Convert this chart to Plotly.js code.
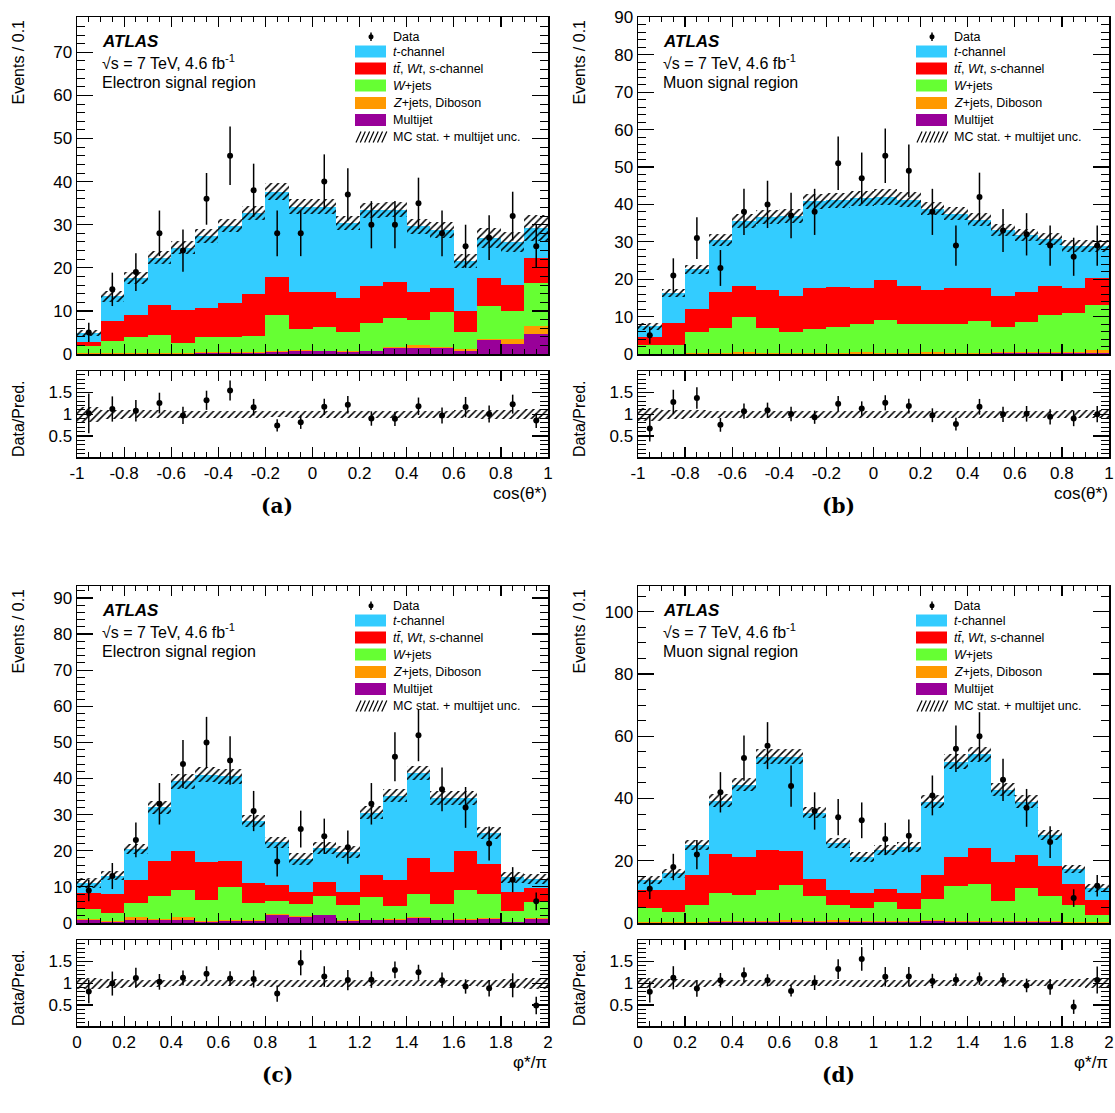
<!DOCTYPE html>
<html><head><meta charset="utf-8">
<script src="https://cdn.plot.ly/plotly-3.0.1.min.js"></script>
<style>body{margin:0;background:#fff}</style>
</head><body><div id="chart" style="width:1115px;height:1113px"></div>
<script>
// ---------------- data ----------------
const cosBins = [-0.95,-0.85,-0.75,-0.65,-0.55,-0.45,-0.35,-0.25,-0.15,-0.05,0.05,0.15,0.25,0.35,0.45,0.55,0.65,0.75,0.85,0.95];
const phiBins = [0.05,0.15,0.25,0.35,0.45,0.55,0.65,0.75,0.85,0.95,1.05,1.15,1.25,1.35,1.45,1.55,1.65,1.75,1.85,1.95];
const cosTickVals = [-1,-0.8,-0.6,-0.4,-0.2,0,0.2,0.4,0.6,0.8,1];
const cosTickText = ['-1','-0.8','-0.6','-0.4','-0.2','0','0.2','0.4','0.6','0.8','1'];
const phiTickVals = [0,0.2,0.4,0.6,0.8,1,1.2,1.4,1.6,1.8,2];
const phiTickText = ['0','0.2','0.4','0.6','0.8','1','1.2','1.4','1.6','1.8','2'];

// (a) electron, cos(theta*)
const elCosMultijet = [0.1,0.1,0.1,0.1,0.1,0.2,0.3,0.3,0.5,0.6,0.6,0.5,0.6,1.5,1.4,1.4,0.8,3.2,2.4,4.7];
const elCosZjets    = [0.05,0.1,0.1,0.1,0.1,0.2,0.2,0.2,0.2,0.3,0.2,0.3,0.2,0.2,0.6,0.2,0.4,0.2,1.1,1.7];
const elCosWjets    = [1.65,2.9,3.8,4.3,2.4,3.6,3.4,3.75,8.3,4.9,5.5,4.4,6.5,6.6,5.8,8.1,4.0,7.8,6.5,10.1];
const elCosTop      = [1.1,4.6,5.1,6.9,7.7,6.6,7.9,9.65,8.9,8.7,8.0,7.9,8.4,8.4,6.7,5.7,4.8,6.4,5.9,5.8];
const elCosTchan    = [2.0,5.7,8.5,10.9,14.4,16.7,18.0,18.8,19.8,19.7,19.9,17.3,17.6,16.8,15.1,13.4,11.5,9.3,10.1,6.9];
const elCosData     = [5,15,19,28,24,36,46,38,28,28,40,37,30,30,35,28,25,27,32,25];
const elCosUnc      = [0.7,1.3,1.4,1.5,1.5,1.6,1.6,1.6,1.9,1.8,1.7,1.6,1.8,1.8,1.7,1.8,1.6,2.3,2.3,3.0];
const elCosRatioUnc = [0.17,0.1,0.09,0.09,0.08,0.08,0.08,0.08,0.07,0.08,0.08,0.08,0.08,0.08,0.08,0.08,0.09,0.1,0.1,0.12];

// (b) muon, cos(theta*)
const muCosMultijet = [0.05,0.05,0.1,0.1,0.1,0.1,0.1,0.1,0.1,0.1,0.1,0.1,0.1,0.1,0.1,0.2,0.2,0.2,0.3,0.4];
const muCosZjets    = [0.05,0.05,0.1,0.2,0.4,0.3,0.3,0.3,0.3,0.4,0.3,0.3,0.4,0.3,0.3,0.4,0.3,0.3,0.3,0.8];
const muCosWjets    = [2.4,2.3,5.6,6.6,9.5,6.5,5.4,6.2,6.7,7.4,8.7,7.5,7.5,7.5,8.3,6.7,8.0,9.8,10.3,11.9];
const muCosTop      = [2.1,5.8,6.1,9.6,8.1,10.3,9.8,11.1,10.8,9.7,10.6,10.2,9.0,9.7,8.9,8.3,8.0,7.8,6.7,7.2];
const muCosTchan    = [2.8,8.2,10.7,13.9,17.4,19.4,21.2,23.1,23.2,24.0,22.3,23.2,21.9,19.9,18.3,17.5,15.2,12.7,11.2,8.7];
const muCosData     = [5,21,31,23,38,40,37,38,51,47,53,49,38,29,42,33,32,29,26,29];
const muCosUnc      = [0.9,1.1,1.3,1.6,1.9,1.9,1.9,2.0,2.0,2.1,2.1,2.0,1.8,1.8,1.8,1.6,1.6,1.6,1.6,1.6];
const muCosRatioUnc = [0.15,0.1,0.09,0.08,0.08,0.08,0.08,0.08,0.08,0.08,0.08,0.08,0.08,0.08,0.08,0.08,0.08,0.08,0.09,0.09];

// (c) electron, phi*/pi
const elPhiMultijet = [0.7,0.4,0.9,0.9,0.7,0.3,0.5,0.5,2.1,1.7,2.1,0.5,0.7,0.9,1.4,0.7,0.9,1.2,0.2,1.2];
const elPhiZjets    = [0.4,0.1,0.8,0.3,0.9,0.3,0.2,0.2,0.5,0.2,0.2,0.2,0.2,0.2,0.2,0.2,0.2,0.1,0.1,0.1];
const elPhiWjets    = [2.9,2.3,3.8,6.2,7.6,5.9,9.2,4.8,3.4,3.5,5.1,4.4,6.3,3.5,6.5,4.5,8.1,6.8,2.9,4.4];
const elPhiTop      = [4.3,5.3,6.5,9.9,10.8,10.3,7.4,5.5,4.4,3.3,3.9,3.6,6.2,7.4,9.9,8.8,10.6,8.1,5.4,4.0];
const elPhiTchan    = [2.8,5.0,8.5,14.7,19.2,24.3,23.3,17.2,11.9,9.0,9.5,10.9,17.1,23.3,23.6,20.4,14.8,8.7,4.0,2.5];
const elPhiData     = [9,13,23,33,44,50,45,31,17,26,24,21,33,46,52,37,32,22,12,6];
const elPhiUnc      = [1.3,1.3,1.5,1.7,2.0,2.1,2.1,1.6,1.6,1.6,1.7,1.6,1.8,1.9,2.0,1.9,1.9,1.6,1.5,1.5];
const elPhiRatioUnc = [0.13,0.1,0.08,0.08,0.07,0.07,0.07,0.07,0.08,0.08,0.08,0.08,0.07,0.07,0.07,0.07,0.07,0.08,0.1,0.13];

// (d) muon, phi*/pi
const muPhiMultijet = [0.1,0.1,0.1,0.2,0.2,0.2,0.4,0.3,0.2,0.2,0.2,0.2,0.6,0.3,0.2,0.2,0.2,0.2,0.1,0.1];
const muPhiZjets    = [0.2,0.2,0.3,0.3,0.3,0.3,0.6,0.4,0.9,0.5,0.5,0.4,0.3,0.3,0.3,0.3,0.3,0.3,0.2,0.2];
const muPhiWjets    = [4.5,3.1,5.5,9.3,8.4,10.0,11.2,7.9,4.8,4.1,6.0,4.0,6.8,11.2,12.0,6.7,10.7,8.3,5.4,2.4];
const muPhiTop      = [5.9,7.3,9.4,12.3,12.2,13.0,11.0,5.6,4.8,4.8,4.2,5.2,7.8,9.3,11.6,12.3,10.6,9.6,6.9,4.8];
const muPhiTchan    = [3.0,5.3,9.8,17.2,23.3,30.0,30.3,21.3,15.0,11.6,12.6,14.5,23.5,30.8,30.2,23.3,17.2,9.9,4.8,3.7];
const muPhiData     = [11,18,22,42,53,57,44,36,34,33,27,28,41,56,60,46,37,26,8,12];
const muPhiUnc      = [1.3,1.4,1.6,2.0,2.1,2.4,2.4,1.9,1.6,1.5,1.6,1.6,2.0,2.3,2.4,2.1,2.0,1.7,1.4,1.2];
const muPhiRatioUnc = [0.12,0.09,0.08,0.07,0.07,0.07,0.07,0.07,0.07,0.08,0.08,0.08,0.07,0.07,0.07,0.07,0.07,0.07,0.09,0.12];

const sampleNames  = ['Multijet','Z+jets, Diboson','W+jets','tt, Wt, s-channel','t-channel'];
const sampleColors = ['#990099','#ff9900','#66ff33','#ff0000','#33ccff'];

// ---------------- build ----------------
const FONT = 'Liberation Sans, Arial, Helvetica, sans-serif';
const panels = [
  {bins: cosBins, comps:[elCosMultijet,elCosZjets,elCosWjets,elCosTop,elCosTchan], data: elCosData, unc: elCosUnc, runc: elCosRatioUnc,
   ymax: 78.2, ydt: 10, ymin: 2, region: 'Electron signal region', col: 0, row: 0, xtitle: 'cos(θ*)', label: '(a)', tv: cosTickVals, tt: cosTickText, xr:[-1,1]},
  {bins: cosBins, comps:[muCosMultijet,muCosZjets,muCosWjets,muCosTop,muCosTchan], data: muCosData, unc: muCosUnc, runc: muCosRatioUnc,
   ymax: 90.1, ydt: 10, ymin: 2, region: 'Muon signal region', col: 1, row: 0, xtitle: 'cos(θ*)', label: '(b)', tv: cosTickVals, tt: cosTickText, xr:[-1,1]},
  {bins: phiBins, comps:[elPhiMultijet,elPhiZjets,elPhiWjets,elPhiTop,elPhiTchan], data: elPhiData, unc: elPhiUnc, runc: elPhiRatioUnc,
   ymax: 93.3, ydt: 10, ymin: 2, region: 'Electron signal region', col: 0, row: 1, xtitle: 'φ*/π', label: '(c)', tv: phiTickVals, tt: phiTickText, xr:[0,2]},
  {bins: phiBins, comps:[muPhiMultijet,muPhiZjets,muPhiWjets,muPhiTop,muPhiTchan], data: muPhiData, unc: muPhiUnc, runc: muPhiRatioUnc,
   ymax: 108.3, ydt: 20, ymin: 5, region: 'Muon signal region', col: 1, row: 1, xtitle: 'φ*/π', label: '(d)', tv: phiTickVals, tt: phiTickText, xr:[0,2]}
];

const W = 1115, H = 1113;
const colPx = [[77,548],[638,1109]];
const mainPx = [[17,354],[586,923]];
const ratioPx = [[371,457],[940,1026]];
const px2x = p => p / W;
const px2y = p => 1 - p / H;

const traces = [];
const layout = {
  width: W, height: H, margin: {l:0,r:0,t:0,b:0},
  paper_bgcolor: 'white', plot_bgcolor: 'white',
  barmode: 'overlay', bargap: 0, showlegend: false,
  font: {family: FONT, color: 'black'},
  shapes: [], annotations: []
};

function axBase() {
  return {showline: true, linecolor: 'black', linewidth: 1.5, mirror: 'ticks', showgrid: false, zeroline: false,
          ticks: 'inside', tickcolor: 'black', tickwidth: 1.2, tickfont: {family: FONT, size: 17, color: 'black'}};
}

panels.forEach((p, i) => {
  const mi = 2*i + 1, ri = 2*i + 2;
  const xm = 'x' + (mi === 1 ? '' : mi), ym = 'y' + (mi === 1 ? '' : mi);
  const xr = 'x' + ri, yr = 'y' + ri;
  const xd = [px2x(colPx[p.col][0]), px2x(colPx[p.col][1])];
  const ydm = [px2y(mainPx[p.row][1]), px2y(mainPx[p.row][0])];
  const ydr = [px2y(ratioPx[p.row][1]), px2y(ratioPx[p.row][0])];

  // axes
  layout['xaxis' + (mi === 1 ? '' : mi)] = Object.assign(axBase(), {
    domain: xd, anchor: ym, range: p.xr, tickvals: p.tv, ticktext: p.tt, showticklabels: false, ticklen: 10,
    minor: {dtick: 0.05, tick0: 0, ticks: 'inside', ticklen: 5, tickcolor: 'black', tickwidth: 1}
  });
  layout['yaxis' + (mi === 1 ? '' : mi)] = Object.assign(axBase(), {
    domain: ydm, anchor: xm, range: [0, p.ymax], dtick: p.ydt, tick0: 0, ticklen: 16,
    minor: {dtick: p.ymin, tick0: 0, ticks: 'inside', ticklen: 8, tickcolor: 'black', tickwidth: 1}
  });
  layout['xaxis' + ri] = Object.assign(axBase(), {
    domain: xd, anchor: yr, range: p.xr, tickvals: p.tv, ticktext: p.tt, ticklen: 10,
    minor: {dtick: 0.05, tick0: 0, ticks: 'inside', ticklen: 5, tickcolor: 'black', tickwidth: 1}
  });
  layout['yaxis' + ri] = Object.assign(axBase(), {
    domain: ydr, anchor: xr, range: [0.02, 1.99], dtick: 0.5, tick0: 0, ticklen: 16,
    minor: {dtick: 0.1, tick0: 0, ticks: 'inside', ticklen: 8, tickcolor: 'black', tickwidth: 1}
  });

  // stacked histogram
  const n = p.bins.length;
  const cum = new Array(n).fill(0);
  p.comps.forEach((c, k) => {
    traces.push({type: 'bar', x: p.bins, y: c, base: cum.slice(), width: 0.1, xaxis: xm, yaxis: ym,
      marker: {color: sampleColors[k], line: {width: 0}}, hoverinfo: 'skip', name: sampleNames[k]});
    for (let j = 0; j < n; j++) cum[j] += c[j];
  });
  const total = cum.slice();
  // MC uncertainty hatch
  const pat = {shape: '/', fgcolor: 'black', fgopacity: 1, size: 5, solidity: 0.3, fillmode: 'overlay'};
  traces.push({type: 'bar', x: p.bins, y: p.unc.map(u => 2*u), base: total.map((t, j) => t - p.unc[j]), width: 0.1,
    xaxis: xm, yaxis: ym, marker: {color: 'rgba(0,0,0,0)', line: {width: 0}, pattern: pat}, hoverinfo: 'skip'});
  // data
  traces.push({type: 'scatter', mode: 'markers', x: p.bins, y: p.data, xaxis: xm, yaxis: ym,
    marker: {color: 'black', size: 6}, error_y: {type: 'sqrt', width: 0, thickness: 1.5, color: 'black'}, hoverinfo: 'skip'});

  // ratio
  traces.push({type: 'bar', x: p.bins, y: p.runc.map(u => 2*u), base: p.runc.map(u => 1 - u), width: 0.1,
    xaxis: xr, yaxis: yr, marker: {color: 'rgba(0,0,0,0)', line: {width: 0}, pattern: pat}, hoverinfo: 'skip'});
  traces.push({type: 'scatter', mode: 'markers', x: p.bins, y: p.data.map((d, j) => d / total[j]), xaxis: xr, yaxis: yr,
    marker: {color: 'black', size: 6},
    error_y: {type: 'data', array: p.data.map((d, j) => Math.sqrt(d) / total[j]), width: 0, thickness: 1.5, color: 'black'}, hoverinfo: 'skip'});

  // ---- text & legend in main-panel domain coordinates ----
  const xref = xm + ' domain', yref = ym + ' domain';
  const lx = px => (px - 77) / 471;      // relative pixel offset -> domain fraction
  const ly = py => (354 - py) / 337;
  const ann = (x, y, text, opts) => layout.annotations.push(Object.assign({xref, yref, x: lx(x), y: ly(y), text,
    showarrow: false, xanchor: 'left', yanchor: 'middle', font: {family: FONT, size: 16, color: 'black'}}, opts || {}));
  ann(100, 41, '<b><i>ATLAS</i></b>', {font: {family: FONT, size: 17, color: 'black'}});
  ann(100, 62, '√s = 7 TeV, 4.6 fb<sup>-1</sup>');
  ann(100, 82, p.region);

  const legRows = [36.7, 51.5, 68.5, 85.5, 103, 120, 137];
  const legText = ['Data', '<i>t</i>-channel', '<i>t</i><i>t̄</i>, <i>Wt</i>, <i>s</i>-channel', '<i>W</i>+jets',
                   '<i>Z</i>+jets, Diboson', 'Multijet', 'MC stat. + multijet unc.'];
  legRows.forEach((r, k) => ann(391, r, legText[k], {font: {family: FONT, size: 12.5, color: 'black'}}));
  // data marker
  layout.shapes.push({type: 'line', xref, yref, x0: lx(371), x1: lx(371), y0: ly(32.5), y1: ly(41), line: {color: 'black', width: 1.5}});
  layout.shapes.push({type: 'circle', xref, yref, x0: lx(368.5), x1: lx(373.5), y0: ly(39.2), y1: ly(34.2),
    fillcolor: 'black', line: {color: 'black', width: 0}});
  // colour swatches: t-channel, top, W, Z, multijet
  const swColors = [sampleColors[4], sampleColors[3], sampleColors[2], sampleColors[1], sampleColors[0]];
  swColors.forEach((c, k) => {
    const r = legRows[k + 1];
    layout.shapes.push({type: 'rect', xref, yref, x0: lx(355), x1: lx(386), y0: ly(r + 6), y1: ly(r - 6),
      fillcolor: c, line: {width: 0}});
  });
  // hatch swatch
  for (let k = 0; k < 7; k++) {
    const x0 = 356 + 4.3*k;
    layout.shapes.push({type: 'line', xref, yref, x0: lx(x0), x1: lx(x0 + 5), y0: ly(142.5), y1: ly(131.5),
      line: {color: 'black', width: 1.2}});
  }

  // axis titles (paper coordinates)
  const xL = colPx[p.col][0], xR = colPx[p.col][1];
  layout.annotations.push({xref: 'paper', yref: 'paper', x: px2x(xL - 59), y: px2y(mainPx[p.row][0] + 1), text: 'Events / 0.1',
    textangle: -90, showarrow: false, xanchor: 'center', yanchor: 'top', font: {family: FONT, size: 16, color: 'black'}});
  layout.annotations.push({xref: 'paper', yref: 'paper', x: px2x(xL - 59), y: px2y(ratioPx[p.row][0] + 48), text: 'Data/Pred.',
    textangle: -90, showarrow: false, xanchor: 'center', yanchor: 'middle', font: {family: FONT, size: 16, color: 'black'}});
  layout.annotations.push({xref: 'paper', yref: 'paper', x: px2x(xR + 1), y: px2y(ratioPx[p.row][1] + 36), text: p.xtitle,
    showarrow: false, xanchor: 'right', yanchor: 'middle', font: {family: FONT, size: 17, color: 'black'}});
  layout.annotations.push({xref: 'paper', yref: 'paper', x: px2x(xL + 200), y: px2y(ratioPx[p.row][1] + 49), text: '<b>' + p.label + '</b>',
    showarrow: false, xanchor: 'center', yanchor: 'middle', font: {family: 'DejaVu Serif, serif', size: 20, color: 'black'}});
});

Plotly.newPlot('chart', traces, layout, {staticPlot: true, displayModeBar: false});
</script>
</body></html>
